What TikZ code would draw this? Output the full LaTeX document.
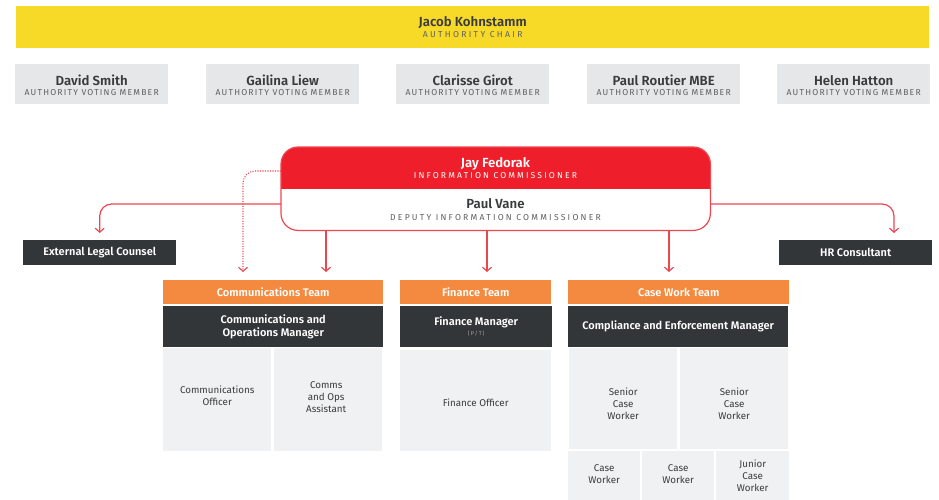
\documentclass[tikz,border=0pt]{standalone}
\usepackage{fontspec}
\setmainfont{Fira Sans}[BoldFont={Fira Sans SemiBold}]
\usetikzlibrary{arrows.meta,calc}
\definecolor{chairY}{HTML}{F7DA28}
\definecolor{memG}{HTML}{E6E7E8}
\definecolor{icRed}{HTML}{EE1F2A}
\definecolor{lineRed}{HTML}{EC4750}
\definecolor{darkB}{HTML}{333638}
\definecolor{teamO}{HTML}{F48A3F}
\definecolor{cellG}{HTML}{F0F1F2}
\definecolor{txtD}{HTML}{3A3B3C}
\definecolor{txtS}{HTML}{5E5F61}
\newcommand{\spc}[2]{{\addfontfeature{LetterSpace=#1}#2}}
\begin{document}
\begin{tikzpicture}[x=1pt,y=-1pt,
  box/.style={rectangle, inner sep=0pt, anchor=north west},
  membox/.style={box, fill=memG, minimum width=153pt, minimum height=40pt},
  namet/.style={anchor=base, inner sep=0pt, font=\fontsize{13.2}{15}\selectfont\bfseries, text=txtD},
  subt/.style={anchor=base, inner sep=0pt, font=\fontsize{8.6}{9}\selectfont, text=txtS},
  darkbox/.style={box, fill=darkB, text=white, font=\fontsize{11}{13}\selectfont\bfseries, align=center},
  teambox/.style={box, fill=teamO, text=white, font=\fontsize{11}{13}\selectfont\bfseries, minimum height=24pt},
  cellbox/.style={box, fill=cellG},
  cellt/.style={inner sep=0pt, align=center, text=txtD, font=\fontsize{9.8}{12}\selectfont},
  conn/.style={draw=lineRed, line width=1.2pt, rounded corners=12pt, -{Straight Barb[length=4pt,width=9pt]}},
  dotconn/.style={conn, line width=1.1pt, dash pattern=on 1.1pt off 1.4pt, -{Straight Barb[length=4pt,width=9pt,sep=0pt]}},
]
\useasboundingbox (0,0) rectangle (939,500);

% chair
\node[box, fill=chairY, minimum width=913pt, minimum height=42pt] (chair) at (16,6) {};
\node[namet] (chairN) at ($(chair.center)+(0,-0.5)$) {Jacob Kohnstamm};
\node[subt] (chairS) at ($(chair.center)+(0,10)$) {\spc{27}{AUTHORITY CHAIR}};

% members
\foreach \x/\n/\nm in {15/m1/David Smith, 206/m2/Gailina Liew, 396/m3/Clarisse Girot, 587/m4/Paul Routier MBE, 777/m5/Helen Hatton}{
  \node[membox] (\n) at (\x,64) {};
  \node[namet] (\n N) at ($(\n.center)+(0,1.5)$) {\nm};
  \node[subt] (\n S) at ($(\n.center)+(0,11.5)$) {\spc{14}{AUTHORITY VOTING MEMBER}};
}

% commissioner box
\node[box, minimum width=429pt, minimum height=83pt] (ic) at (281,147) {};
\begin{scope}
  \clip[rounded corners=17pt] (ic.north west) rectangle (ic.south east);
  \fill[icRed] (ic.north west) rectangle ($(ic.north east)+(0,42)$);
\end{scope}
\draw[lineRed, line width=1.2pt, rounded corners=17pt] (ic.north west) rectangle (ic.south east);
\node[namet, text=white] (jay) at (495.5,167) {Jay Fedorak};
\node[subt, text=white] (jayS) at (495.5,178.5) {\spc{25}{INFORMATION COMMISSIONER}};
\node[namet] (vane) at (495.5,208.5) {Paul Vane};
\node[subt] (vaneS) at (495.5,220.5) {\spc{26}{DEPUTY INFORMATION COMMISSIONER}};

% advisers
\node[darkbox, minimum width=153pt, minimum height=25pt] (elc) at (23,240) {External Legal Counsel};
\node[darkbox, minimum width=153pt, minimum height=25pt] (hr) at (779,240) {HR Consultant};

% teams
\node[teambox, minimum width=220pt] (comm) at (163,280) {Communications Team};
\node[teambox, minimum width=151pt] (fin) at (400,280) {Finance Team};
\node[teambox, minimum width=221pt] (case) at (568,280) {Case Work Team};

\node[darkbox, minimum width=220pt, minimum height=41pt] (commM) at (163,306) {Communications and\\Operations Manager};
\node[darkbox, minimum width=152pt, minimum height=41pt] (finM) at (400,306) {Finance Manager\\[-3pt]{\fontsize{5.5}{6}\selectfont\mdseries\color{gray!70}\spc{20}{(P/T)}}};
\node[darkbox, minimum width=220pt, minimum height=41pt] (caseM) at (568,306) {Compliance and Enforcement Manager};

% cells
\node[cellbox, minimum width=108pt, minimum height=103pt] (c1) at (163,348) {};
\node[cellbox, minimum width=108pt, minimum height=103pt] (c2) at (274,348) {};
\node[cellbox, minimum width=151pt, minimum height=101pt] (f1) at (400,350) {};
\node[cellbox, minimum width=108pt, minimum height=101pt] (s1) at (569,348) {};
\node[cellbox, minimum width=108pt, minimum height=101pt] (s2) at (680,348) {};
\node[cellbox, minimum width=72pt, minimum height=49pt] (b1) at (568,451) {};
\node[cellbox, minimum width=72pt, minimum height=49pt] (b2) at (642,451) {};
\node[cellbox, minimum width=73pt, minimum height=49pt] (b3) at (716,451) {};

\node[cellt] (c1t) at ($(c1.center)+(0,-4)$) {Communications\\Officer};
\node[cellt] (c2t) at ($(c2.center)+(-2,-3)$) {Comms\\and Ops\\Assistant};
\node[cellt] (f1t) at ($(f1.center)+(0,2)$) {Finance Officer};
\node[cellt] (s1t) at ($(s1.center)+(0,5)$) {Senior\\Case\\Worker};
\node[cellt] (s2t) at ($(s2.center)+(0,5)$) {Senior\\Case\\Worker};
\node[cellt] (b1t) at ($(b1.center)+(0,-2)$) {Case\\Worker};
\node[cellt] (b2t) at ($(b2.center)+(0,-2)$) {Case\\Worker};
\node[cellt] (b3t) at ($(b3.center)+(0,0)$) {Junior\\Case\\Worker};

% connectors
\draw[conn, shorten >=7pt] (ic.west |- 0,204) -| (elc.north);
\draw[conn, shorten >=7pt] (ic.east |- 0,204) -| (hr.north -| 894,0);
\draw[dotconn, shorten >=8pt] (ic.west |- 0,171) -| (comm.north -| 243,0);
\draw[conn, shorten >=8pt] (ic.south -| 326,0) -- (comm.north -| 326,0);
\draw[conn, shorten >=8pt] (ic.south -| 487,0) -- (fin.north -| 487,0);
\draw[conn, shorten >=8pt] (ic.south -| 669,0) -- (case.north -| 669,0);
\end{tikzpicture}
\end{document}
